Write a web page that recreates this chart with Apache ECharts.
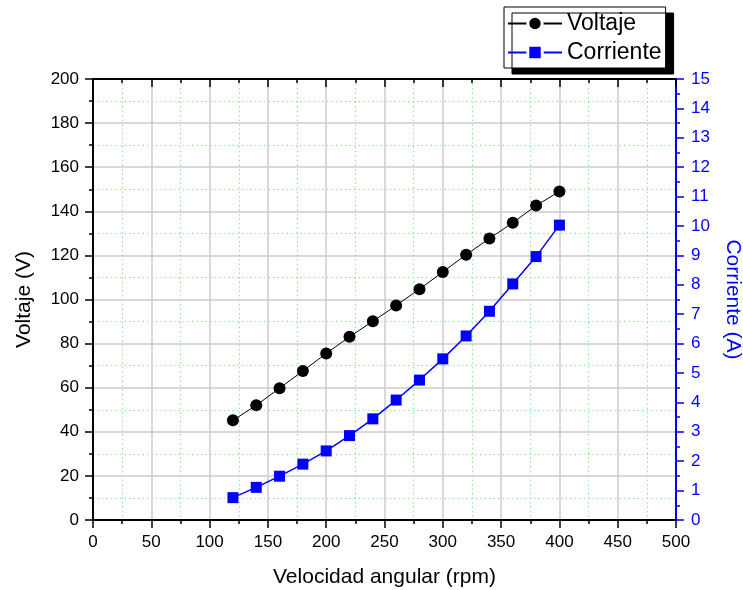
<!DOCTYPE html>
<html>
<head>
<meta charset="utf-8">
<script src="https://cdn.jsdelivr.net/npm/echarts@6/dist/echarts.min.js"></script>
<style>html,body{margin:0;padding:0;background:#fff}#c{width:743px;height:590px}</style>
</head>
<body>
<div id="c"></div>
<script>
var rpm = [120, 140, 160, 180, 200, 220, 240, 260, 280, 300, 320, 340, 360, 380, 400];
var voltaje = [45.2, 52.0, 59.8, 67.6, 75.5, 83.1, 90.1, 97.3, 104.7, 112.5, 120.3, 127.7, 134.8, 142.6, 149.0];
var corriente = [0.76, 1.11, 1.49, 1.90, 2.35, 2.87, 3.44, 4.08, 4.76, 5.48, 6.26, 7.10, 8.03, 8.96, 10.03];

var FONT = '"Liberation Sans", Arial, sans-serif';
function pairs(xs, ys){ return xs.map(function(x,i){ return [x, ys[i]]; }); }

var chart = echarts.init(document.getElementById('c'), null, {renderer: 'canvas'});
chart.setOption({
  animation: false,
  backgroundColor: '#fff',
  textStyle: {fontFamily: FONT},
  grid: {left: 93, right: 67, top: 79, bottom: 70, containLabel: false, outerBoundsMode: 'none'},
  legend: {
    orient: 'vertical', left: 504, top: 7,
    padding: [5, 4, 4, 3], itemGap: 6, itemWidth: 54, itemHeight: 18,
    backgroundColor: '#fff', borderColor: '#000', borderWidth: 1,
    shadowBlur: 0, shadowColor: '#000', shadowOffsetX: 8, shadowOffsetY: 6,
    itemStyle: {borderColor: '#fff', borderWidth: 3},
    textStyle: {fontSize: 23, color: '#000', fontFamily: FONT},
    data: ['Voltaje', 'Corriente']
  },
  xAxis: [{
    type: 'value', min: 0, max: 500, interval: 50, position: 'bottom',
    name: 'Velocidad angular (rpm)', nameLocation: 'middle', nameGap: 47,
    nameTextStyle: {fontSize: 21, color: '#000', fontFamily: FONT},
    axisLine: {show: true, onZero: false, lineStyle: {color: '#000', width: 2}},
    axisTick: {show: true, inside: false, length: 8, lineStyle: {color: '#000', width: 1.5}},
    minorTick: {show: true, splitNumber: 2, length: 4, lineStyle: {color: '#000', width: 1.5}},
    axisLabel: {fontSize: 17, color: '#000', margin: 14, fontFamily: FONT},
    splitLine: {show: true, lineStyle: {color: '#cccccc', width: 1.5}},
    minorSplitLine: {show: true, lineStyle: {color: '#88ee88', width: 1, type: [1.5, 3]}}
  }, {
    type: 'value', min: 0, max: 500, interval: 50, position: 'top',
    axisLine: {show: true, onZero: false, lineStyle: {color: '#000', width: 2}},
    axisTick: {show: true, inside: true, length: 8, lineStyle: {color: '#000', width: 1.5}},
    minorTick: {show: true, splitNumber: 2, length: 4, lineStyle: {color: '#000', width: 1.5}},
    axisLabel: {show: false},
    splitLine: {show: false}
  }],
  yAxis: [{
    type: 'value', min: 0, max: 200, interval: 20, position: 'left',
    name: 'Voltaje (V)', nameLocation: 'middle', nameGap: 58,
    nameTextStyle: {fontSize: 21, color: '#000', fontFamily: FONT},
    axisLine: {show: true, onZero: false, lineStyle: {color: '#000', width: 2}},
    axisTick: {show: true, inside: false, length: 8, lineStyle: {color: '#000', width: 1.5}},
    minorTick: {show: true, splitNumber: 2, length: 4, lineStyle: {color: '#000', width: 1.5}},
    axisLabel: {fontSize: 17, color: '#000', margin: 14, fontFamily: FONT},
    splitLine: {show: true, lineStyle: {color: '#cccccc', width: 1.5}},
    minorSplitLine: {show: true, lineStyle: {color: '#88ee88', width: 1, type: [1.5, 3]}}
  }, {
    type: 'value', min: 0, max: 15, interval: 1, position: 'right',
    name: 'Corriente (A)', nameLocation: 'middle', nameGap: 46, nameRotate: -90,
    nameTextStyle: {fontSize: 21, color: '#0000ff', fontFamily: FONT},
    axisLine: {show: true, onZero: false, lineStyle: {color: '#0000ff', width: 2}},
    axisTick: {show: true, inside: false, length: 8, lineStyle: {color: '#0000ff', width: 1.5}},
    minorTick: {show: true, splitNumber: 2, length: 4, lineStyle: {color: '#0000ff', width: 1.5}},
    axisLabel: {fontSize: 17, color: '#0000ff', margin: 15, fontFamily: FONT},
    splitLine: {show: false}
  }],
  series: [{
    name: 'Voltaje', type: 'line', xAxisIndex: 0, yAxisIndex: 0,
    data: pairs(rpm, voltaje),
    symbol: 'circle', symbolSize: 12,
    itemStyle: {color: '#000'},
    lineStyle: {color: '#000', width: 1}
  }, {
    name: 'Corriente', type: 'line', xAxisIndex: 0, yAxisIndex: 1,
    data: pairs(rpm, corriente),
    symbol: 'rect', symbolSize: 11,
    itemStyle: {color: '#0000ff'},
    lineStyle: {color: '#0000ff', width: 1.5}
  }]
});
</script>
</body>
</html>
